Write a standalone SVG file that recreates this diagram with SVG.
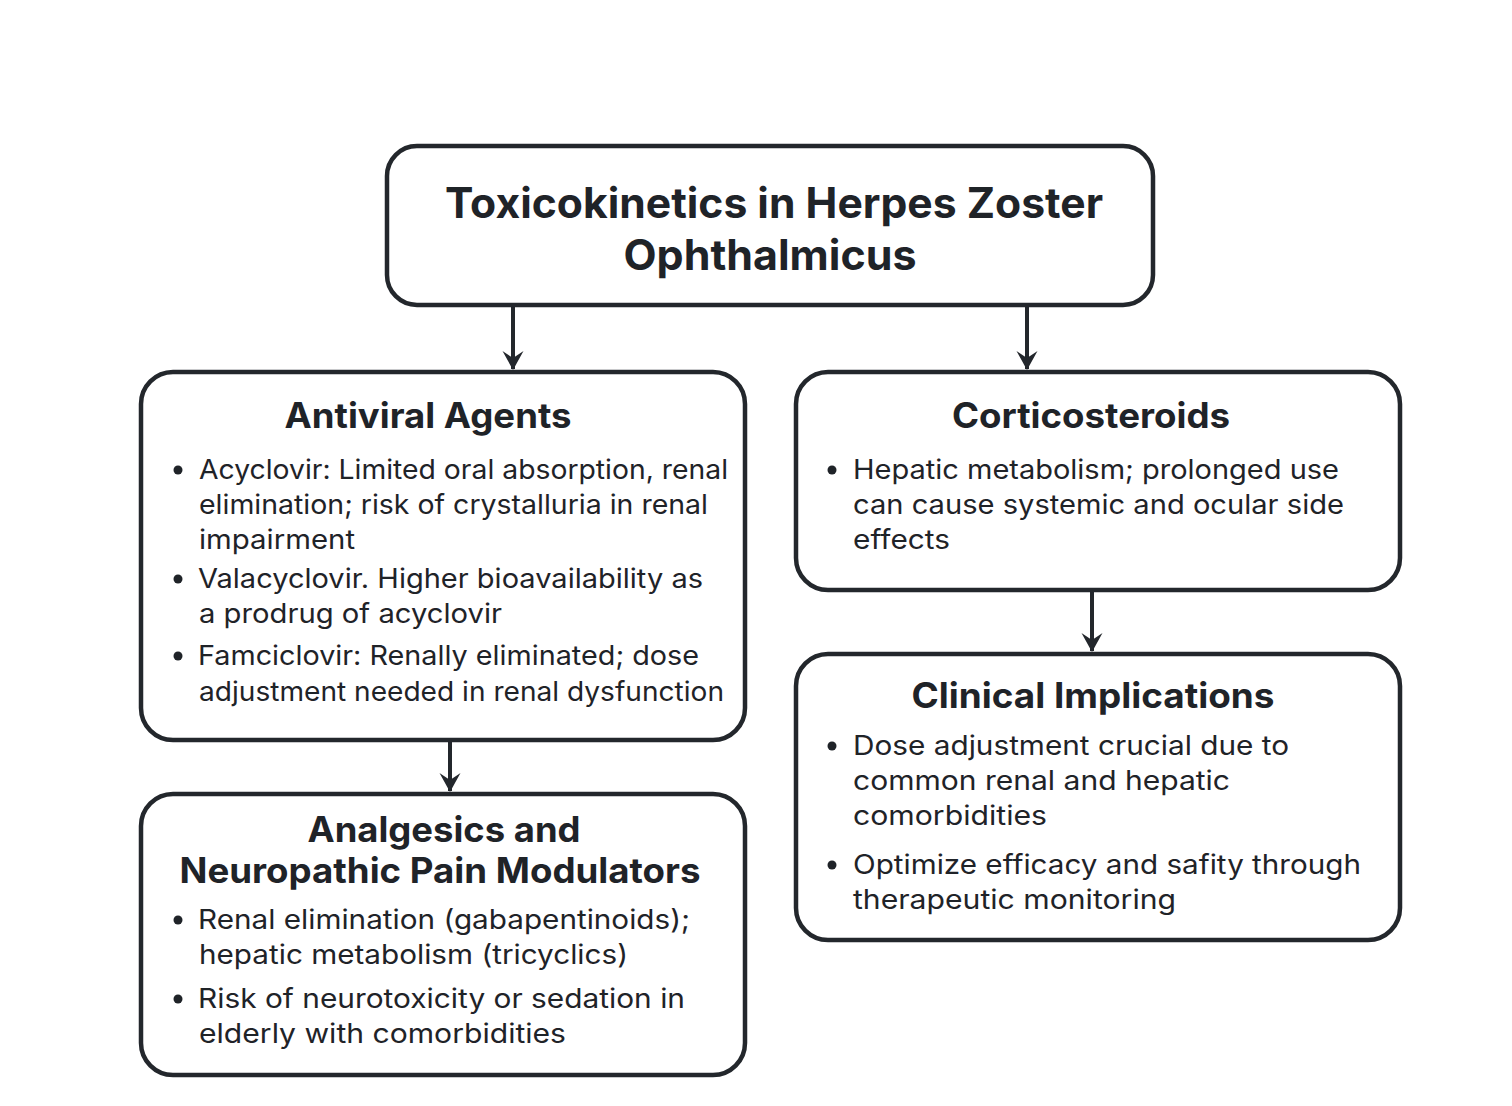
<svg xmlns="http://www.w3.org/2000/svg" width="1512" height="1106" viewBox="0 0 1512 1106">
<defs>
<style>
.box{fill:#fff;stroke:#23272c;stroke-width:4.5}
.h{font-family:Inter,Roboto,"Liberation Sans",sans-serif;font-weight:700;fill:#1f2328;text-anchor:middle}
.t{font-family:Inter,Roboto,"Liberation Sans",sans-serif;font-size:27px;fill:#1f2328}
.c{fill:none;stroke:#23272c;stroke-width:4}
.b{fill:#1f2328}
</style>
<marker id="ad" viewBox="0 0 24 24" refX="12" refY="22" markerWidth="24" markerHeight="24" markerUnits="userSpaceOnUse" orient="0">
<path d="M1.5,4 L12,23 L22.5,4 L12,11 Z" fill="#23272c"/>
</marker>
</defs>
<rect width="1512" height="1106" fill="#fff"/>
<g id="connectors">
<line class="c" x1="513" y1="306" x2="513" y2="369" marker-end="url(#ad)"/>
<line class="c" x1="1027" y1="306" x2="1027" y2="369" marker-end="url(#ad)"/>
<line class="c" x1="450" y1="740" x2="450" y2="791" marker-end="url(#ad)"/>
<line class="c" x1="1092" y1="590" x2="1092" y2="651" marker-end="url(#ad)"/>
</g>
<g id="title">
<rect class="box" x="387" y="146" width="766" height="159" rx="30"/>
<text class="h" font-size="42" x="774" y="218" textLength="658" lengthAdjust="spacingAndGlyphs">Toxicokinetics in Herpes Zoster</text>
<text class="h" font-size="42" x="770" y="270" textLength="293" lengthAdjust="spacingAndGlyphs">Ophthalmicus</text>
</g>
<g id="antiviral">
<rect class="box" x="141" y="372" width="604" height="368" rx="32"/>
<text class="h" font-size="35" x="428" y="428" textLength="287" lengthAdjust="spacingAndGlyphs">Antiviral Agents</text>
<circle class="b" cx="178" cy="470" r="4.5"/>
<text class="t" x="199" y="479" textLength="529" lengthAdjust="spacingAndGlyphs">Acyclovir: Limited oral absorption, renal</text>
<text class="t" x="199" y="514" textLength="509" lengthAdjust="spacingAndGlyphs">elimination; risk of crystalluria in renal</text>
<text class="t" x="199" y="549" textLength="156" lengthAdjust="spacingAndGlyphs">impairment</text>
<circle class="b" cx="178" cy="579" r="4.5"/>
<text class="t" x="198" y="588" textLength="505" lengthAdjust="spacingAndGlyphs">Valacyclovir. Higher bioavailability as</text>
<text class="t" x="199" y="623" textLength="303" lengthAdjust="spacingAndGlyphs">a prodrug of acyclovir</text>
<circle class="b" cx="178" cy="656" r="4.5"/>
<text class="t" x="198" y="665" textLength="501" lengthAdjust="spacingAndGlyphs">Famciclovir: Renally eliminated; dose</text>
<text class="t" x="199" y="701" textLength="525" lengthAdjust="spacingAndGlyphs">adjustment needed in renal dysfunction</text>
</g>
<g id="corticosteroids">
<rect class="box" x="796" y="372" width="604" height="218" rx="32"/>
<text class="h" font-size="35" x="1091" y="428" textLength="278" lengthAdjust="spacingAndGlyphs">Corticosteroids</text>
<circle class="b" cx="832" cy="470" r="4.5"/>
<text class="t" x="853" y="479" textLength="486" lengthAdjust="spacingAndGlyphs">Hepatic metabolism; prolonged use</text>
<text class="t" x="853" y="514" textLength="491" lengthAdjust="spacingAndGlyphs">can cause systemic and ocular side</text>
<text class="t" x="853" y="549" textLength="97" lengthAdjust="spacingAndGlyphs">effects</text>
</g>
<g id="clinical">
<rect class="box" x="796" y="654" width="604" height="286" rx="32"/>
<text class="h" font-size="35" x="1093" y="708" textLength="363" lengthAdjust="spacingAndGlyphs">Clinical Implications</text>
<circle class="b" cx="832" cy="746" r="4.5"/>
<text class="t" x="853" y="755" textLength="436" lengthAdjust="spacingAndGlyphs">Dose adjustment crucial due to</text>
<text class="t" x="853" y="790" textLength="377" lengthAdjust="spacingAndGlyphs">common renal and hepatic</text>
<text class="t" x="853" y="825" textLength="194" lengthAdjust="spacingAndGlyphs">comorbidities</text>
<circle class="b" cx="832" cy="865" r="4.5"/>
<text class="t" x="853" y="874" textLength="508" lengthAdjust="spacingAndGlyphs">Optimize efficacy and safity through</text>
<text class="t" x="853" y="909" textLength="323" lengthAdjust="spacingAndGlyphs">therapeutic monitoring</text>
</g>
<g id="analgesics">
<rect class="box" x="141" y="794" width="604" height="281" rx="32"/>
<text class="h" font-size="35" x="444" y="842" textLength="273" lengthAdjust="spacingAndGlyphs">Analgesics and</text>
<text class="h" font-size="35" x="440" y="883" textLength="521" lengthAdjust="spacingAndGlyphs">Neuropathic Pain Modulators</text>
<circle class="b" cx="178" cy="920" r="4.5"/>
<text class="t" x="198" y="929" textLength="492" lengthAdjust="spacingAndGlyphs">Renal elimination (gabapentinoids);</text>
<text class="t" x="199" y="964" textLength="429" lengthAdjust="spacingAndGlyphs">hepatic metabolism (tricyclics)</text>
<circle class="b" cx="178" cy="999" r="4.5"/>
<text class="t" x="198" y="1008" textLength="487" lengthAdjust="spacingAndGlyphs">Risk of neurotoxicity or sedation in</text>
<text class="t" x="199" y="1043" textLength="367" lengthAdjust="spacingAndGlyphs">elderly with comorbidities</text>
</g>
</svg>
